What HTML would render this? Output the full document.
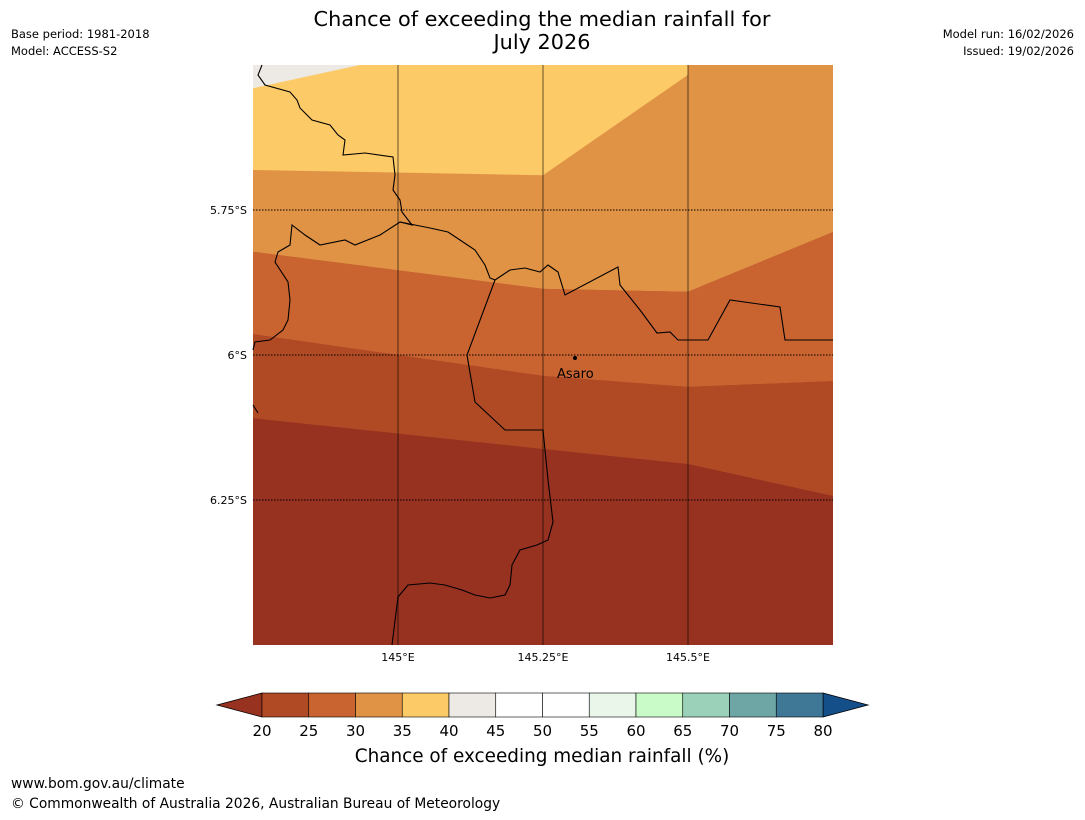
<!DOCTYPE html>
<html><head><meta charset="utf-8"><style>
body{margin:0;background:#fff;width:1085px;height:816px;overflow:hidden;font-family:"DejaVu Sans","Liberation Sans",sans-serif}
</style></head><body>
<svg width="1085" height="816" xmlns="http://www.w3.org/2000/svg" font-family="DejaVu Sans, Liberation Sans, sans-serif">
<text x="542" y="26" text-anchor="middle" font-size="20.8">Chance of exceeding the median rainfall for</text>
<text x="542" y="49" text-anchor="middle" font-size="20.8">July 2026</text>
<text x="11" y="38" font-size="11.5">Base period: 1981-2018</text>
<text x="11" y="55" font-size="11.5">Model: ACCESS-S2</text>
<text x="1074" y="38" font-size="11.5" text-anchor="end">Model run: 16/02/2026</text>
<text x="1074" y="55" font-size="11.5" text-anchor="end">Issued: 19/02/2026</text>
<g id="map"></g>
<g id="cbar"></g>
<text x="542" y="762" text-anchor="middle" font-size="18.4">Chance of exceeding median rainfall (%)</text>
<text x="11" y="788" font-size="13.8">www.bom.gov.au/climate</text>
<text x="11" y="808" font-size="13.8">© Commonwealth of Australia 2026, Australian Bureau of Meteorology</text>
</svg>
<script>
const NS="http://www.w3.org/2000/svg";
const levels=[20,25,30,35,40,45,50,55,60,65,70,75,80];
const colors=["#b04a24","#c96431","#e09245","#fdca68","#ede9e4","#ffffff","#ffffff","#eaf6e9","#c8fbc8","#9bd0b9","#6ea6a6","#3f7896"];
const underColor="#973120", overColor="#154f8a";
const lonTicks=[145,145.25,145.5], lonLabels=["145°E","145.25°E","145.5°E"];
const latTicks=[5.75,6,6.25], latLabels=["5.75°S","6°S","6.25°S"];
const bLons=[144.75,145.25,145.5,145.75];
const b1=[5.822,5.886,5.891,5.788];
const b2=[5.964,6.036,6.055,6.045];
const b3=[6.109,6.162,6.188,6.243];
const yellowLons=[144.75,145.25,145.5], yellowLats=[5.681,5.690,5.517];
const grayTopLon=144.934, grayLeftLat=5.540;
const X=l=>253+(l-144.75)*580, Y=la=>65+(la-5.5)*580;
const map=document.getElementById('map');
function add(p,tag,a){const e=document.createElementNS(NS,tag);for(const k in a)e.setAttribute(k,a[k]);p.appendChild(e);return e;}
const bg=add(map,'rect',{x:253,y:65,width:580,height:580,fill:underColor});

function band(top,bot,fill,name){
 let pts=bLons.map((l,i)=>X(l)+','+Y(top?top[i]:5.5));
 pts=pts.concat(bLons.slice().reverse().map((l,i)=>X(l)+','+Y(bot[3-i])));
 const e=add(map,'polygon',{points:pts.join(' '),fill:fill});
 
}
band(b2,b3,"#b04a24",'band-25-30');
band(b1,b2,"#c96431",'band-30-35');
band(null,b1,"#e09245",'band-35-40');
let yp=[X(144.75)+','+Y(5.5),X(145.5)+','+Y(5.5)];
for(let i=yellowLons.length-1;i>=0;i--)yp.push(X(yellowLons[i])+','+Y(yellowLats[i]));
const ye=add(map,'polygon',{points:yp.join(' '),fill:"#fdca68"});

const gr=add(map,'polygon',{points:`${X(144.75)},${Y(5.5)} ${X(grayTopLon)},${Y(5.5)} ${X(144.75)},${Y(grayLeftLat)}`,fill:"#ede9e4"});

const borders=[
"262,65 258,75 265,85 290,92 297,100 300,108 312,120 330,125 338,135 345,140 343,155 365,153 393,157 395,175 393,190 400,200 402,212 412,225 400,222 380,235 355,245 345,240 320,245 305,235 292,225 290,245 278,252 275,262 288,282 290,300 288,320 283,330 270,340 255,342 253,350",
"400,222 430,228 448,232 460,240 475,250 485,265 490,278 495,280 510,270 525,268 540,272 548,265 558,272 565,295 618,267 620,285 628,295 640,310 657,333 670,332 678,340 708,340 730,300 780,307 785,340 833,340",
"495,280 467,355 475,402 505,430 543,430 548,480 553,522 548,540 537,545 520,550 512,565 510,585 505,595 490,598 475,595 462,590 445,585 430,583 408,585 398,597 392,645",
"253,405 258,413"];
borders.forEach((b,i)=>{const e=add(map,'polyline',{points:b,fill:'none',stroke:'#000','stroke-width':1.1});
});
lonTicks.forEach((l,i)=>{
 const e=add(map,'line',{x1:X(l),x2:X(l),y1:65,y2:645,stroke:'rgba(0,0,0,0.4)','stroke-width':1.5});
 
 const t=add(map,'text',{x:X(l),y:661,'text-anchor':'middle','font-size':11});t.textContent=lonLabels[i];
 
});
latTicks.forEach((l,i)=>{
 const e=add(map,'line',{x1:253,x2:833,y1:Y(l),y2:Y(l),stroke:'#000','stroke-width':1,'stroke-dasharray':'1.5,1.5'});
 
 const t=add(map,'text',{x:247,y:Y(l)+4,'text-anchor':'end','font-size':11});t.textContent=latLabels[i];
 
});
const dot=add(map,'circle',{cx:575,cy:358,r:2,fill:'#000'});

const at=add(map,'text',{x:557,y:378,'font-size':13});at.textContent='Asaro';

const cb=document.getElementById('cbar');
const CX=v=>262+(v-20)*(561/60);
const ul=add(cb,'polygon',{points:`${CX(20)},693 217,705 ${CX(20)},717`,fill:underColor,stroke:'#000','stroke-width':0.8});

const ov=add(cb,'polygon',{points:`${CX(80)},693 868,705 ${CX(80)},717`,fill:overColor,stroke:'#000','stroke-width':0.8});

colors.forEach((c,i)=>{
 const r=add(cb,'rect',{x:CX(levels[i]),y:693,width:CX(levels[i+1])-CX(levels[i]),height:24,fill:c,stroke:'#000','stroke-width':0.6});
 
});
levels.forEach(v=>{
 const t=add(cb,'text',{x:CX(v),y:736,'text-anchor':'middle','font-size':15});t.textContent=v;
 
});
</script>
</body></html>
